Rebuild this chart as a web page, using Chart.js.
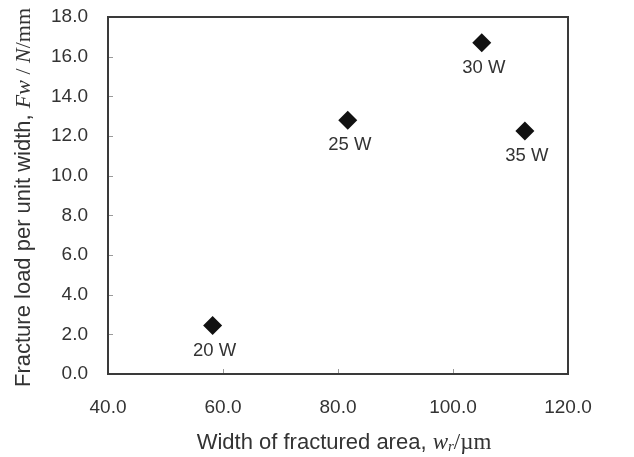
<!DOCTYPE html>
<html>
<head>
<meta charset="utf-8">
<script src="https://cdn.jsdelivr.net/npm/chart.js@4.4.0/dist/chart.umd.min.js"></script>
<style>
  html, body { margin: 0; padding: 0; background: #ffffff; }
  #wrap { width: 634px; height: 457px; position: relative; }
</style>
</head>
<body>
<div id="wrap"><canvas id="c" width="634" height="457"></canvas></div>
<script>
// ---- data ----
const powerLabels = ["20 W", "25 W", "30 W", "35 W"];
const widthValues = [58.2, 81.7, 105.0, 112.5];     // width of fractured area (µm)
const loadValues  = [2.45, 12.8, 16.7, 12.25];       // fracture load per unit width (N/mm)
const xTicks = [40, 60, 80, 100, 120];
const yTicks = [0, 2, 4, 6, 8, 10, 12, 14, 16, 18];

const SANS = '"Liberation Sans", Arial, sans-serif';
const SERIF = '"Liberation Serif", "Times New Roman", serif';
const TEXT = '#333333';
const AXIS = '#3a3a3a';

const points = widthValues.map((x, i) => ({ x: x, y: loadValues[i] }));

const framePlugin = {
  id: 'frame',
  afterDatasetsDraw(chart) {
    const { ctx, chartArea: a, scales } = chart;
    ctx.save();
    // inner tick marks
    ctx.strokeStyle = '#9a9a9a';
    ctx.lineWidth = 1;
    ctx.beginPath();
    xTicks.forEach(v => {
      const px = Math.round(scales.x.getPixelForValue(v)) + 0.5;
      ctx.moveTo(px, a.bottom);
      ctx.lineTo(px, a.bottom - 5);
    });
    yTicks.forEach(v => {
      const py = Math.round(scales.y.getPixelForValue(v)) + 0.5;
      ctx.moveTo(a.left, py);
      ctx.lineTo(a.left + 5, py);
    });
    ctx.stroke();
    // frame
    ctx.strokeStyle = AXIS;
    ctx.lineWidth = 2;
    ctx.strokeRect(a.left, a.top, a.right - a.left, a.bottom - a.top);
    ctx.restore();
  },
  afterDraw(chart) {
    const { ctx, chartArea: a } = chart;
    const meta = chart.getDatasetMeta(0);
    ctx.save();
    ctx.fillStyle = TEXT;
    ctx.font = '18.5px ' + SANS;
    ctx.textAlign = 'center';
    ctx.textBaseline = 'middle';
    meta.data.forEach((el, i) => {
      ctx.fillText(powerLabels[i], el.x + 2, el.y + 25);
    });

    // mixed-font axis titles
    function drawRuns(runs, cx, cy, rotate) {
      let total = 0;
      runs.forEach(r => { ctx.font = r.font; r.w = ctx.measureText(r.t).width; total += r.w; });
      ctx.save();
      ctx.translate(cx, cy);
      if (rotate) ctx.rotate(-Math.PI / 2);
      ctx.textAlign = 'left';
      ctx.textBaseline = 'middle';
      let x = -total / 2;
      runs.forEach(r => {
        ctx.font = r.font;
        ctx.fillText(r.t, x, r.dy || 0);
        x += r.w;
      });
      ctx.restore();
    }
    ctx.fillStyle = TEXT;
    drawRuns([
      { t: 'Fracture load per unit width, ', font: '22px ' + SANS },
      { t: 'Fw', font: 'italic 22px ' + SERIF },
      { t: ' / ', font: '22px ' + SERIF },
      { t: 'N', font: 'italic 22px ' + SERIF },
      { t: '/mm', font: '22px ' + SERIF }
    ], 24, (a.top + a.bottom) / 2 + 2, true);
    drawRuns([
      { t: 'Width of fractured area, ', font: '22px ' + SANS },
      { t: 'w', font: 'italic 23px ' + SERIF },
      { t: 'r', font: 'italic 15px ' + SERIF, dy: 4 },
      { t: '/\u00b5m', font: '23px ' + SERIF }
    ], (a.left + a.right) / 2 + 6, 443, false);
    ctx.restore();
  }
};

new Chart(document.getElementById('c'), {
  type: 'scatter',
  data: {
    datasets: [{
      data: points,
      pointStyle: 'rectRot',
      pointRadius: 9.5,
      pointHoverRadius: 9.5,
      backgroundColor: '#111111',
      borderColor: '#111111',
      borderWidth: 0
    }]
  },
  options: {
    responsive: false,
    animation: false,
    events: [],
    layout: { padding: { left: 0, right: 66, top: 17, bottom: 0 } },
    plugins: { legend: { display: false }, tooltip: { enabled: false } },
    scales: {
      x: {
        type: 'linear',
        min: 40, max: 120,
        afterBuildTicks(s) { s.ticks = xTicks.map(v => ({ value: v })); },
        afterFit(s) { s.height = 83; s.paddingLeft = 0; s.paddingRight = 0; },
        grid: { display: false, drawTicks: false },
        border: { display: false },
        ticks: {
          padding: 22,
          color: TEXT,
          font: { family: SANS, size: 19 },
          callback: v => v.toFixed(1)
        }
      },
      y: {
        type: 'linear',
        min: 0, max: 18,
        afterBuildTicks(s) { s.ticks = yTicks.map(v => ({ value: v })); },
        afterFit(s) { s.width = 108; s.paddingTop = 0; s.paddingBottom = 0; },
        grid: { display: false, drawTicks: false },
        border: { display: false },
        ticks: {
          padding: 20,
          color: TEXT,
          font: { family: SANS, size: 19 },
          callback: v => v.toFixed(1)
        }
      }
    }
  },
  plugins: [framePlugin]
});
</script>
</body>
</html>
